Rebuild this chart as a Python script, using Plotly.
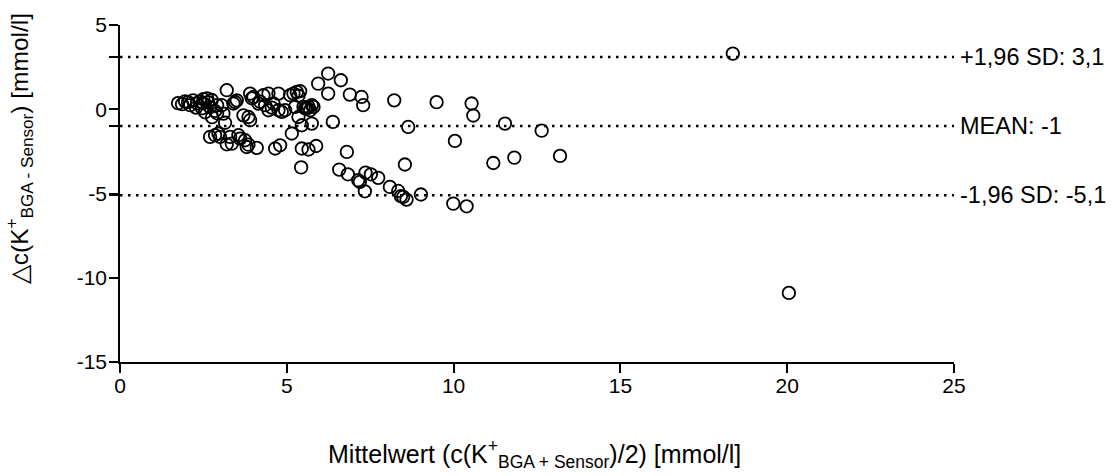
import plotly.graph_objects as go

# Bland-Altman data: mean of both methods (x) vs. difference BGA - Sensor (y), mmol/l
mean_values = [
    1.74, 1.86, 1.95, 2.04, 2.10, 2.19, 2.31, 2.40, 2.49, 2.61, 2.64, 2.70, 2.46, 2.55,
    2.91, 2.91, 2.76, 3.15, 2.50, 2.75, 2.28, 2.85, 3.20, 3.05, 3.10, 3.40, 3.45, 3.50,
    3.90, 3.95, 4.00, 4.15, 4.30, 4.35, 4.45, 4.60, 4.75, 4.45, 4.75, 4.85, 4.95, 5.10,
    5.20, 5.30, 5.40, 5.35, 5.25, 5.50, 5.60, 5.65, 5.75, 5.80, 5.70, 5.55, 4.20, 4.55,
    3.70, 3.85, 3.90, 5.35, 5.75, 5.45, 5.15, 6.38,
    6.24, 5.94, 6.62, 6.24, 6.89, 7.24, 7.29, 8.22, 9.49, 10.54, 10.59, 8.64, 11.54,
    12.64, 10.04, 18.37,
    2.70, 2.85, 2.95, 3.00, 3.30, 3.35, 3.20, 3.55, 3.60, 3.75, 3.85, 3.80, 4.10, 4.65,
    4.80, 5.45, 5.65, 5.88, 5.43, 6.80,
    6.57, 6.83, 7.14, 7.19, 7.36, 7.52, 7.74, 7.34, 8.09, 8.34, 8.42, 8.49, 8.59, 9.02,
    9.99, 10.39, 8.54, 11.19, 11.82, 13.19, 20.05,
]
diff_values = [
    0.36, 0.30, 0.47, 0.42, 0.24, 0.53, 0.36, 0.47, 0.36, 0.65, 0.42, 0.12, 0.06, -0.18,
    0.24, -0.24, -0.47, -0.80, 0.60, 0.55, 0.10, -0.10, 1.13, 0.24, -0.26, 0.34, 0.43, 0.53,
    0.93, 0.65, 0.73, 0.34, 0.83, 0.24, 0.93, 0.34, 0.93, -0.06, -0.06, -0.16, -0.06, 0.83,
    0.93, 1.03, 1.07, 0.80, 0.14, 0.14, 0.05, 0.14, 0.24, 0.14, -0.06, 0.05, 0.45, 0.10,
    -0.36, -0.46, -0.65, -0.46, -0.85, -0.95, -1.44, -0.75,
    2.12, 1.52, 1.72, 0.93, 0.87, 0.73, 0.24, 0.53, 0.42, 0.34, -0.37, -1.05, -0.85,
    -1.27, -1.88, 3.30,
    -1.64, -1.54, -1.44, -1.64, -1.64, -2.04, -2.08, -1.54, -1.74, -1.84, -2.10, -2.24,
    -2.29, -2.33, -2.14, -2.33, -2.39, -2.18, -3.45, -2.53,
    -3.58, -3.86, -4.21, -4.31, -3.76, -3.86, -4.07, -4.87, -4.61, -4.85, -5.16, -5.20,
    -5.36, -5.06, -5.60, -5.76, -3.28, -3.19, -2.87, -2.77, -10.90,
]

# Reference lines (mean and limits of agreement)
line_values = [3.1, -1.0, -5.1]
line_labels = ["+1,96 SD: 3,1", "MEAN: -1", "-1,96 SD: -5,1"]

x_ticks = [0, 5, 10, 15, 20, 25]
y_ticks = [-15, -10, -5, 0, 5]

FONT = "Arial, 'Liberation Sans', sans-serif"

fig = go.Figure()
fig.add_trace(go.Scatter(
    x=mean_values, y=diff_values, mode="markers",
    marker=dict(symbol="circle-open", size=12.5, color="black",
                line=dict(color="black", width=1.8)),
    cliponaxis=False, showlegend=False,
))

for val, lab in zip(line_values, line_labels):
    fig.add_shape(type="line", xref="x", yref="y", x0=0, x1=25, y0=val, y1=val,
                  line=dict(color="black", width=2.5, dash="2.5px,5.5px"))
    fig.add_annotation(x=25, y=val, xref="x", yref="y", text=lab, showarrow=False,
                       xanchor="left", yanchor="middle", xshift=4,
                       font=dict(family=FONT, size=23.5, color="black"))

# Axis titles
fig.add_annotation(
    xref="paper", yref="paper", x=0.4976, y=-0.272, xanchor="center", yanchor="middle",
    text="Mittelwert (c(K<sup>+</sup><sub>BGA + Sensor</sub>)/2) [mmol/l]",
    showarrow=False, font=dict(family=FONT, size=25, color="black"))
fig.add_annotation(
    xref="paper", yref="paper", x=-0.122, y=0.632, xanchor="center", yanchor="middle",
    textangle=-90,
    text="△c(K<sup>+</sup><sub>BGA - Sensor</sub>) [mmol/l]",
    showarrow=False, font=dict(family=FONT, size=24.5, color="black"))

y_tickvals = y_ticks + line_values
y_ticktext = [str(v) for v in y_ticks] + ["" for _ in line_values]

fig.update_layout(
    width=1114, height=476,
    margin=dict(l=120, r=160, t=25, b=114),
    paper_bgcolor="white", plot_bgcolor="white",
    font=dict(family=FONT, color="black"),
    xaxis=dict(range=[0, 25], tickvals=x_ticks, ticks="outside", ticklen=9,
               tickwidth=1.5, tickcolor="black", showline=True, linewidth=1.5,
               linecolor="black", showgrid=False, zeroline=False,
               ticklabelstandoff=-5,
               tickfont=dict(family=FONT, size=21, color="black")),
    yaxis=dict(range=[-15, 5], tickvals=y_tickvals, ticktext=y_ticktext,
               ticks="outside", ticklen=9, tickwidth=1.5, tickcolor="black",
               showline=True, linewidth=1.5, linecolor="black", showgrid=False,
               zeroline=False, ticklabelstandoff=-2,
               tickfont=dict(family=FONT, size=21, color="black")),
)

fig.write_html("out.html")
